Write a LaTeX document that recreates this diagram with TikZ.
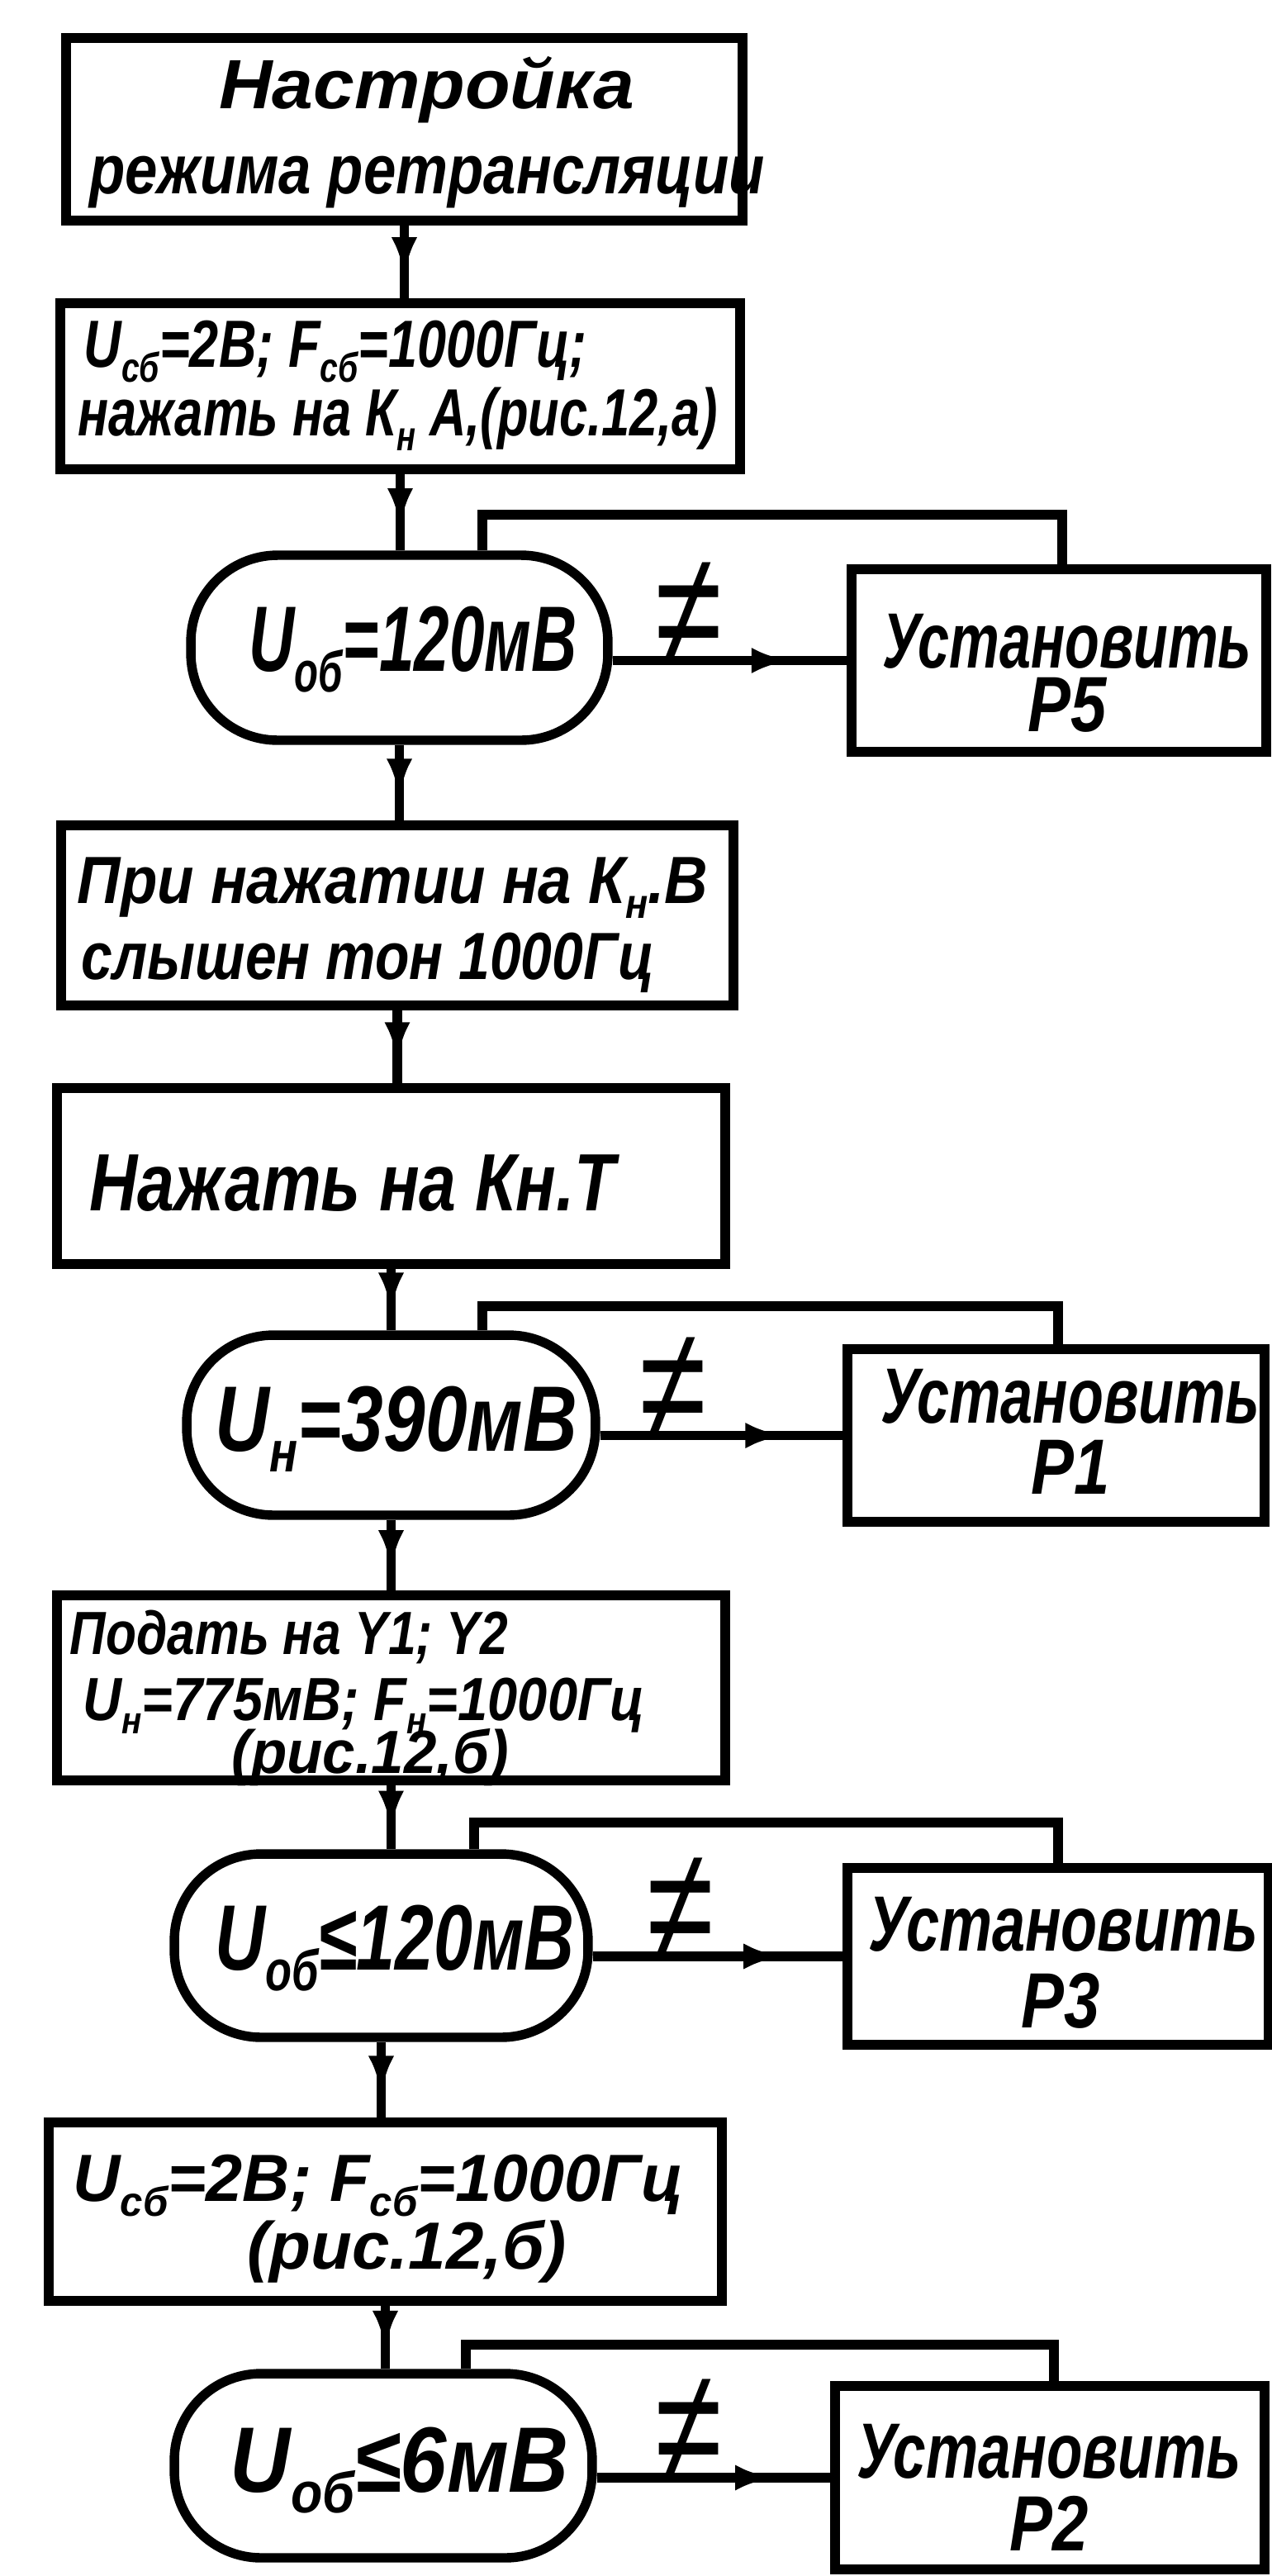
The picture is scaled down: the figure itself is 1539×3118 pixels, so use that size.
\documentclass[tikz,border=0pt]{standalone}
\usepackage{fontspec}
\newfontfamily\hw{Liberation Sans}
\usetikzlibrary{arrows.meta,decorations.markings}
\newcommand\sbx[1]{\raisebox{-0.22em}{\scalebox{0.62}{#1}}}
\newcommand\sx[2]{\scalebox{#1}[1]{#2}}
\newcommand\fs[2]{\fontsize{#1}{#2}\selectfont}
\tikzset{
  box/.style={draw, rectangle, inner sep=0pt},
  term/.style={draw, rectangle, rounded corners=2.1cm, inner sep=0pt},
  txt/.style={inner sep=0pt},
  neq/.style={inner sep=0pt, anchor=base, font=\hw\itshape\fs{112}{112}},
  flow/.style={postaction={decorate}, decoration={markings,
      mark=at position #1 with {\arrow{Latex[length=0.95cm,width=0.62cm]}}}},
  flow/.default=0.7,
}
\begin{document}
\begin{tikzpicture}[x=0.02cm,y=-0.02cm,line width=6.5pt]
\fill[white] (0,0) rectangle (1539,3118);
\useasboundingbox (0,0) rectangle (1539,3118);

% main column
\node[box, minimum width=16.38cm, minimum height=4.42cm] (b1) at (489.5,156.5) {};
\node[box, minimum width=16.46cm, minimum height=4.02cm] (b2) at (484.5,467.5) {};
\node[term, minimum width=10.1cm, minimum height=4.48cm] (s1) at (483.5,784) {};
\node[box, minimum width=16.28cm, minimum height=4.36cm] (b3) at (481,1108) {};
\node[box, minimum width=16.18cm, minimum height=4.26cm] (b4) at (473.5,1423.5) {};
\node[term, minimum width=9.9cm, minimum height=4.36cm] (s2) at (473.5,1725) {};
\node[box, minimum width=16.18cm, minimum height=4.48cm] (b5) at (473.5,2043) {};
\node[term, minimum width=10.02cm, minimum height=4.44cm] (s3) at (461.5,2355) {};
\node[box, minimum width=16.3cm, minimum height=4.32cm] (b6) at (466.5,2677) {};
\node[term, minimum width=10.12cm, minimum height=4.46cm] (s4) at (464,2984.5) {};

% side boxes
\node[box, minimum width=10.04cm, minimum height=4.42cm] (p5) at (1282,799.5) {};
\node[box, minimum width=10.1cm, minimum height=4.18cm] (p1) at (1278.5,1737.5) {};
\node[box, minimum width=10.2cm, minimum height=4.28cm] (p3) at (1281,2368) {};
\node[box, minimum width=10.4cm, minimum height=4.44cm] (p2) at (1271,2999) {};

% texts in the main column
\node[txt, align=center, font=\hw\bfseries\itshape\fs{48}{58.6}] (t1) at (517,160.5)
  {\sx{1.06}{Настройка}\\\sx{0.84}{режима ретрансляции}};
\node[txt, align=left, anchor=west, font=\hw\bfseries\itshape\fs{46}{47.2}] (t2) at (89,466.5)
  {\hspace*{0.14cm}\sx{0.78}{U\sbx{сб}=2В; F\sbx{сб}=1000Гц;}\\\sx{0.76}{нажать на К\sbx{н} А,(рис.12,а)}};
\node[txt, font=\hw\bfseries\itshape\fs{64}{64}] (ts1) at (500,786) {\sx{0.68}{U\sbx{об}=120мВ}};
\node[txt, align=left, anchor=west, font=\hw\bfseries\itshape\fs{46}{52.3}] (t3) at (88,1120)
  {\sx{0.9}{При нажатии на К\sbx{н}.В}\\\hspace*{0.1cm}\sx{0.84}{слышен тон 1000Гц}};
\node[txt, anchor=west, font=\hw\bfseries\itshape\fs{56}{56}] (t4) at (103,1432) {\sx{0.82}{Нажать на Кн.Т}};
\node[txt, font=\hw\bfseries\itshape\fs{64}{64}] (ts2) at (480,1730) {\sx{0.81}{U\sbx{н}=390мВ}};
\node[txt, align=left, anchor=west, font=\hw\bfseries\itshape\fs{42}{45.5}] (t5) at (79,2055)
  {\sx{0.82}{Подать на Y1; Y2}\\\hspace*{0.32cm}\sx{0.88}{U\sbx{н}=775мВ; F\sbx{н}=1000Гц}\\[-0.32cm]\hspace*{3.92cm}\sx{0.96}{(рис.12,б)}};
\node[txt, font=\hw\bfseries\itshape\fs{64}{64}] (ts3) at (478,2358) {\sx{0.75}{U\sbx{об}≤120мВ}};
\node[txt, align=left, anchor=west, font=\hw\bfseries\itshape\fs{46}{46.7}] (t6) at (83,2686)
  {\sx{0.98}{U\sbx{сб}=2В; F\sbx{сб}=1000Гц}\\\hspace*{4.22cm}\sx{1.01}{(рис.12,б)}};
\node[txt, font=\hw\bfseries\itshape\fs{64}{64}] (ts4) at (484,2990) {\sx{0.9}{U\sbx{об}≤6мВ}};

% texts in the side boxes
\node[txt, align=center, font=\hw\bfseries\itshape\fs{54}{43.8}] (tp5) at (1292,814.5)
  {\sx{0.72}{Установить}\\\sx{0.82}{Р5}};
\node[txt, align=center, font=\hw\bfseries\itshape\fs{54}{49}] (tp1) at (1296,1733)
  {\sx{0.74}{Установить}\\\sx{0.82}{Р1}};
\node[txt, align=left, anchor=west, font=\hw\bfseries\itshape\fs{54}{53}] (tp3) at (1046,2375.5)
  {\sx{0.76}{Установить}\\\hspace*{3.7cm}\sx{0.82}{Р3}};
\node[txt, align=center, font=\hw\bfseries\itshape\fs{54}{50}] (tp2) at (1270,3011)
  {\sx{0.75}{Установить}\\\sx{0.82}{Р2}};

% vertical connectors
\draw[flow] (b1.south) -- (b1.south |- b2.north);
\draw[flow] (b2.south) -- (b2.south |- s1.north);
\draw[flow] (s1.south) -- (s1.south |- b3.north);
\draw[flow] (b3.south) -- (b3.south |- b4.north);
\draw[flow] (b4.south) -- (b4.south |- s2.north);
\draw[flow] (s2.south) -- (s2.south |- b5.north);
\draw[flow] (b5.south) -- (b5.south |- s3.north);
\draw[flow] (s3.south) -- (s3.south |- b6.north);
\draw[flow] (b6.south) -- (b6.south |- s4.north);

% branches to side boxes
\draw[flow=0.76] (p5.west -| s1.east) -- (p5.west);
\draw[flow=0.76] (p1.west -| s2.east) -- (p1.west);
\draw[flow=0.76] (p3.west -| s3.east) -- (p3.west);
\draw[flow=0.76] (p2.west -| s4.east) -- (p2.west);

\node[neq] (n1) at (834,805) {\sx{0.75}{≠}};
\node[neq] (n2) at (815,1743) {\sx{0.75}{≠}};
\node[neq] (n3) at (824,2373.5) {\sx{0.75}{≠}};
\node[neq] (n4) at (834,3004.5) {\sx{0.75}{≠}};

% return loops
\coordinate (l1r) at (1286,623);  \coordinate (l1l) at (584,623);
\coordinate (l2r) at (1281,1581); \coordinate (l2l) at (584,1581);
\coordinate (l3r) at (1281,2206); \coordinate (l3l) at (574,2206);
\coordinate (l4r) at (1276,2838); \coordinate (l4l) at (564,2838);
\draw (l1r |- p5.north) -- (l1r) -- (l1l) -- (l1l |- s1.north);
\draw (l2r |- p1.north) -- (l2r) -- (l2l) -- (l2l |- s2.north);
\draw (l3r |- p3.north) -- (l3r) -- (l3l) -- (l3l |- s3.north);
\draw (l4r |- p2.north) -- (l4r) -- (l4l) -- (l4l |- s4.north);
\end{tikzpicture}
\end{document}
